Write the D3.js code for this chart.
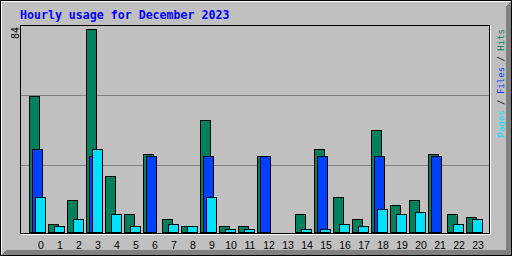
<!DOCTYPE html>
<html lang="en">

<head>
  <title>Hourly usage for December 2023</title>
  <meta charset="UTF-8">
  <style>
    body { margin: 0; background: #fff; }
    svg { display: block; }
  </style>
</head>

<body>
  <div class="container"></div>
  <script src="https://cdn.jsdelivr.net/npm/d3@7"></script>
  <script>
    // values
    var hourLabels = ['0', '1', '2', '3', '4', '5', '6', '7', '8', '9', '10', '11',
      '12', '13', '14', '15', '16', '17', '18', '19', '20', '21', '22', '23'];
    var hits = [56, 3, 13, 84, 23, 7, 32, 5, 2, 46, 2, 2, 31, 0, 7, 34, 14, 5, 42, 11, 13, 32, 7, 6];
    var files = [34, 0, 0, 31, 0, 0, 31, 0, 0, 31, 0, 0, 31, 0, 0, 31, 0, 0, 31, 0, 0, 31, 0, 0];
    var pages = [14, 2, 5, 34, 7, 2, 0, 3, 2, 14, 1, 1, 0, 0, 1, 1, 3, 2, 9, 7, 8, 0, 3, 5];
    var maxLabel = '84';
    var title = 'Hourly usage for December 2023';

    var W = 512, H = 256;
    var bg = '#c0c0c0', dkgrey = '#808080';
    var series = [
      { name: 'Hits', values: hits, color: '#00805c', dx: 0 },
      { name: 'Files', values: files, color: '#0040ff', dx: 3 },
      { name: 'Pages', values: pages, color: '#00e0ff', dx: 6 }
    ];

    var svg = d3.select('.container').append('svg')
      .attr('width', W)
      .attr('height', H)
      .attr('shape-rendering', 'crispEdges');

    // outer box with 3d-ish border
    svg.append('rect').attr('x', 0).attr('y', 0).attr('width', W).attr('height', H).attr('fill', bg);
    svg.append('polygon')
      .attr('points', '1,255 511,255 511,1 506,6 506,250 6,250')
      .attr('fill', dkgrey);
    svg.append('path').attr('d', 'M1.5,254V1.5H510').attr('stroke', '#fff').attr('fill', 'none');
    svg.append('rect').attr('x', 0.5).attr('y', 0.5).attr('width', W - 1).attr('height', H - 1)
      .attr('fill', 'none').attr('stroke', '#000');

    // plot frame: white shadow then black box
    var plot = { left: 20, top: 25, right: 489, bottom: 233 };
    svg.append('rect')
      .attr('x', plot.left + 1.5).attr('y', plot.top + 1.5)
      .attr('width', plot.right - plot.left).attr('height', plot.bottom - plot.top)
      .attr('fill', 'none').attr('stroke', '#fff');
    svg.append('rect')
      .attr('x', plot.left + 0.5).attr('y', plot.top + 0.5)
      .attr('width', plot.right - plot.left).attr('height', plot.bottom - plot.top)
      .attr('fill', bg).attr('stroke', '#000');

    // grid lines at thirds
    [1, 2].forEach(function (k) {
      var gy = plot.top + Math.round((plot.bottom + 2 - plot.top) * k / 3) + 0.5;
      svg.append('line')
        .attr('x1', plot.left + 1).attr('x2', plot.right)
        .attr('y1', gy).attr('y2', gy)
        .attr('stroke', dkgrey);
    });

    var x = d3.scaleBand().domain(hourLabels).range([29, 29 + 19 * 24]);
    var y = d3.scaleLinear().domain([0, +maxLabel]).range([231, 29]);
    var baseRow = 232;

    series.forEach(function (s) {
      svg.append('g').selectAll('rect')
        .data(s.values.map(function (v, i) { return { h: hourLabels[i], v: v }; })
          .filter(function (d) { return d.v > 0; }))
        .join('rect')
        .attr('x', function (d) { return x(d.h) + s.dx + 0.5; })
        .attr('y', function (d) { return Math.round(y(d.v)) + 0.5; })
        .attr('width', 10)
        .attr('height', function (d) { return baseRow - Math.round(y(d.v)); })
        .attr('fill', s.color)
        .attr('stroke', '#000');
    });

    // hour labels
    svg.append('g').selectAll('text')
      .data(hourLabels)
      .join('text')
      .attr('x', function (d) { return x(d) + 12; })
      .attr('y', 249)
      .attr('text-anchor', 'middle')
      .attr('font-family', '"Liberation Sans", Arial, sans-serif')
      .attr('font-size', '10.5px')
      .attr('fill', '#000')
      .text(function (d) { return d; });

    // title
    svg.append('text')
      .attr('x', 20).attr('y', 19)
      .attr('font-family', '"DejaVu Sans Mono", monospace')
      .attr('font-weight', 'bold')
      .attr('font-size', '11.6px')
      .attr('fill', '#0000ff')
      .text(title);

    // max value, rotated
    svg.append('text')
      .attr('transform', 'translate(19,27) rotate(-90)')
      .attr('text-anchor', 'end')
      .attr('font-family', '"DejaVu Sans Mono", monospace')
      .attr('font-size', '10px')
      .attr('fill', '#000')
      .text(maxLabel);

    // legend on the right
    var legend = svg.append('text')
      .attr('transform', 'translate(504,29) rotate(-90)')
      .attr('text-anchor', 'end')
      .attr('font-family', '"DejaVu Sans Mono", monospace')
      .attr('font-size', '9px');
    var order = [series[2], series[1], series[0]];
    order.forEach(function (s, i) {
      if (i > 0) legend.append('tspan').attr('fill', '#000').text(' / ');
      legend.append('tspan').attr('fill', s.color).text(s.name);
    });
  </script>
</body>

</html>
